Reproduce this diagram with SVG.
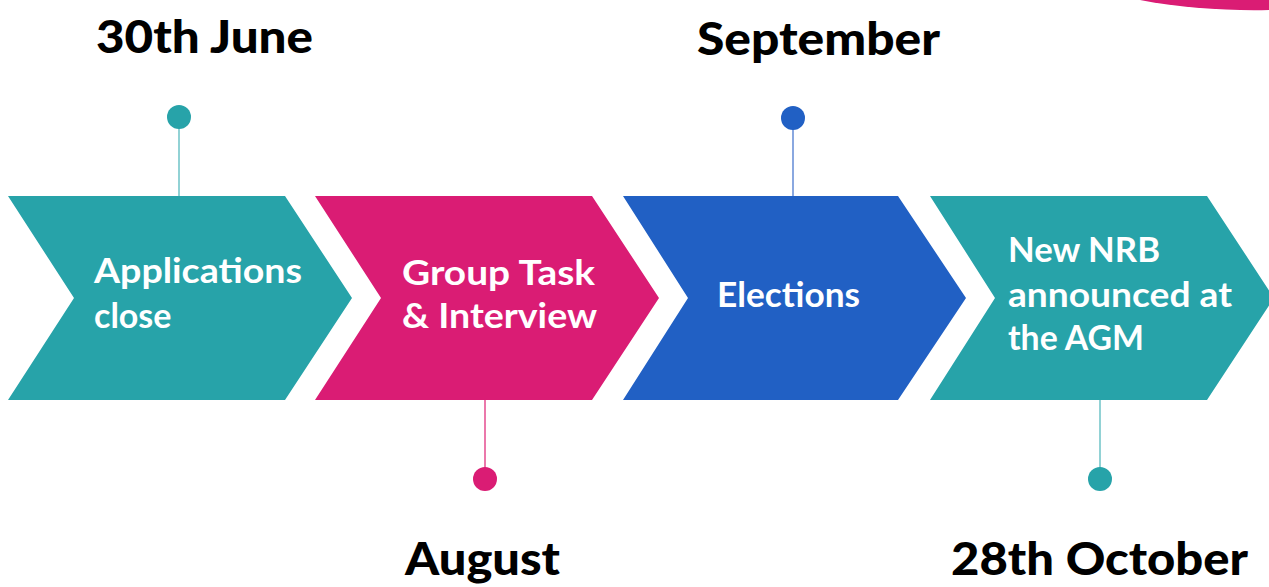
<svg xmlns="http://www.w3.org/2000/svg" width="1269" height="587" viewBox="0 0 1269 587">
  <style>
    .date { font-family: Lato, "Liberation Sans", sans-serif; font-weight: 900; font-size: 46px; fill: #000; }
    .label { font-family: Lato, "Liberation Sans", sans-serif; font-weight: 700; font-size: 34px; fill: #fff; }
    .teal { fill: #27A3A9; }
    .pink { fill: #DA1C74; }
    .blue { fill: #2160C4; }
    .stem { stroke-width: 2; fill: none; }
  </style>

  <!-- decorative corner swoosh -->
  <path d="M1140,0 C1180,8 1230,11 1269,10 L1269,0 Z" class="pink"/>

  <!-- stems linking each step to its date marker -->
  <g id="connectors">
    <line class="stem" x1="179" y1="117" x2="179" y2="196" stroke="#92D2D5"/>
    <line class="stem" x1="485" y1="400" x2="485" y2="479" stroke="#EB78AB"/>
    <line class="stem" x1="793" y1="118" x2="793" y2="196" stroke="#8AA8E0"/>
    <line class="stem" x1="1100" y1="400" x2="1100" y2="479" stroke="#92D2D5"/>
  </g>

  <g id="step-applications">
    <polygon class="teal" points="8,196 285,196 352,298 285,400 8,400 74,298"/>
    <text class="label" x="94" y="283" textLength="208" lengthAdjust="spacingAndGlyphs">Applications</text>
    <text class="label" x="94" y="328">close</text>
    <circle class="teal" cx="179" cy="117" r="12"/>
    <text class="date" x="96" y="53" textLength="217" lengthAdjust="spacingAndGlyphs">30th June</text>
  </g>

  <g id="step-group-task">
    <polygon class="pink" points="315,196 592,196 659,298 592,400 315,400 381,298"/>
    <text class="label" x="402" y="285" textLength="193" lengthAdjust="spacingAndGlyphs">Group Task</text>
    <text class="label" x="402" y="328" textLength="195" lengthAdjust="spacingAndGlyphs">&amp; Interview</text>
    <circle class="pink" cx="485" cy="479" r="12"/>
    <text class="date" x="405" y="575" textLength="155" lengthAdjust="spacingAndGlyphs">August</text>
  </g>

  <g id="step-elections">
    <polygon class="blue" points="623,196 898,196 966,298 898,400 623,400 688,298"/>
    <text class="label" x="717" y="307" textLength="143" lengthAdjust="spacingAndGlyphs">Elections</text>
    <circle class="blue" cx="793" cy="118" r="12"/>
    <text class="date" x="697" y="55" textLength="243" lengthAdjust="spacingAndGlyphs">September</text>
  </g>

  <g id="step-agm">
    <polygon class="teal" points="930,196 1207,196 1274,298 1207,400 930,400 995,298"/>
    <text class="label" x="1008" y="262" textLength="152" lengthAdjust="spacingAndGlyphs">New NRB</text>
    <text class="label" x="1008" y="307" textLength="224" lengthAdjust="spacingAndGlyphs">announced at</text>
    <text class="label" x="1008" y="350" textLength="136" lengthAdjust="spacingAndGlyphs">the AGM</text>
    <circle class="teal" cx="1100" cy="479" r="12"/>
    <text class="date" x="951" y="575" textLength="297" lengthAdjust="spacingAndGlyphs">28th October</text>
  </g>
</svg>
